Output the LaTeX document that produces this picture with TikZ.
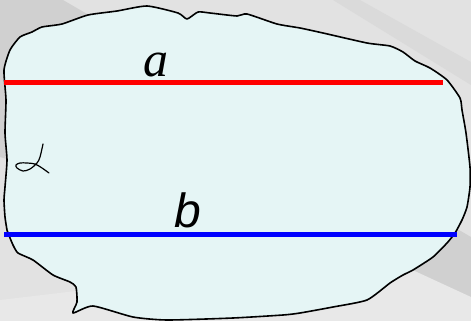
\documentclass[tikz,border=0pt]{standalone}
\usepackage{fontspec}
\setmainfont{Liberation Serif}
\newfontfamily\sansfnt{Liberation Sans}
\begin{document}
\begin{tikzpicture}[x=1pt,y=-1pt]
\definecolor{bgbase}{HTML}{E2E2E2}
\definecolor{bgdark}{HTML}{D0D0D0}
\definecolor{bgmid}{HTML}{DADADA}
\definecolor{bglight}{HTML}{E8E8E8}
\definecolor{blobfill}{HTML}{E5F5F5}
\tikzset{
  blob/.style={draw=black, line width=1.6pt, fill=blobfill, line join=round},
  redline/.style={draw={rgb,255:red,255;green,0;blue,0}, line width=5pt},
  blueline/.style={draw={rgb,255:red,0;green,0;blue,255}, line width=5pt},
  handstroke/.style={draw=black, line width=1.2pt, line cap=round, line join=round},
}
\useasboundingbox (0,0) rectangle (471,321);
% background
\fill[bgbase] (0,0) rectangle (471,321);
\fill[bgdark] (0,0) -- (63,0) -- (471,237) -- (471,297) -- (0,157) -- cycle;
\fill[bgmid] (333,0) -- (360,0) -- (471,62) -- (471,85) -- cycle;
\fill[bglight] (0,300) -- (380,255) -- (471,297) -- (471,321) -- (0,321) -- cycle;
% plane
\draw[blob] plot[smooth cycle, tension=0.35] coordinates {
 (4,70) (10,50) (20,37) (32,32) (42,27) (62,24) (88,15) (117,11) (147,6)
 (178,13) (187,19) (198,12) (210,13) (237,16) (247,14) (277,24) (300,28)
 (323,33) (367,43) (390,46) (403,52) (415,61) (430,68) (447,80) (460,98)
 (462,110) (466,133) (470,167) (470,187) (467,207) (462,220) (455,233)
 (447,243) (433,257) (413,270) (403,275) (390,283) (367,300) (333,307)
 (300,313) (283,315) (233,318) (167,320) (133,317) (93,306) (73,313)
 (77,302) (76,287) (70,282) (53,275) (33,260) (18,253) (13,245) (8,233)
 (7,230) (5,217) (4,200) (5,187) (7,160) (5,133) (6,100)};
% lines
\coordinate (aL) at (4,82);
\coordinate (aR) at (443,82);
\coordinate (bL) at (4,234);
\coordinate (bR) at (457,234);
\draw[redline] (aL) -- (aR);
\draw[blueline] (bL) -- (bR);
% labels
\node[anchor=base, inner sep=0pt, font=\fontsize{50}{50}\selectfont\itshape] (la) at (156,77) {a};
\node[anchor=base, inner sep=0pt, font=\fontsize{48}{48}\selectfont\sansfnt\itshape] (lb) at (188,227) {b};
% hand-drawn alpha
\draw[handstroke] plot[smooth, tension=0.55] coordinates {
 (43,144) (40,157) (37,163) (30,169) (23,171) (17,168) (16,165) (20,163)
 (27,163) (35,164) (42,168) (49,173)};
\end{tikzpicture}
\end{document}
